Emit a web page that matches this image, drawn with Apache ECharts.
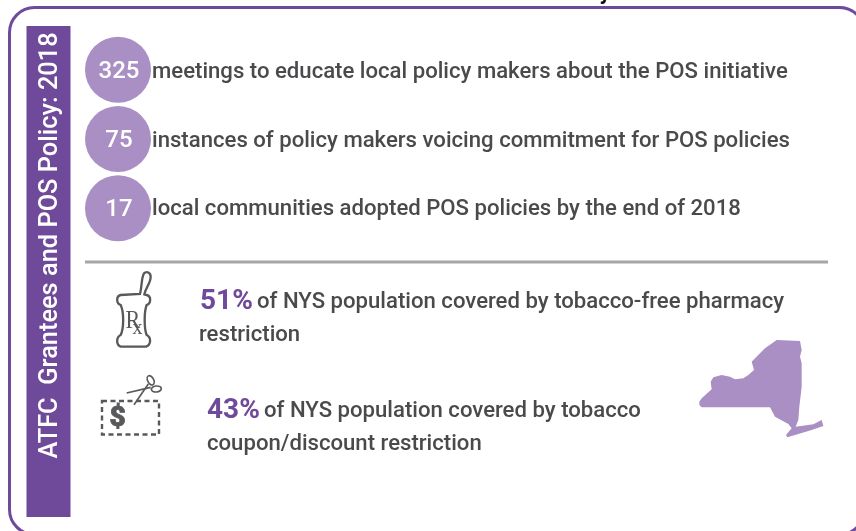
<!DOCTYPE html>
<html><head><meta charset="utf-8">
<style>html,body{margin:0;padding:0;background:#fff}#c{width:856px;height:531px}</style>
<script src="https://cdn.jsdelivr.net/npm/echarts@6/dist/echarts.min.js"></script>
</head><body><div id="c"></div>
<script>
const sideTitle = 'ATFC  Grantees and POS Policy: 2018';
const counts = [325, 75, 17];
const countLabels = [
  'meetings to educate local policy makers about the POS initiative',
  'instances of policy makers voicing commitment for POS policies',
  'local communities adopted POS policies by the end of 2018'
];
const shares = ['51%', '43%'];
const shareLines = [
  ['of NYS population covered by tobacco-free pharmacy', 'restriction'],
  ['of NYS population covered by tobacco', 'coupon/discount restriction']
];
const FONT = 'Roboto, sans-serif';
const PURPLE = '#6f4a9a', LILAC = '#a98fc4', INK = '#4a4a4c', ICON = '#58595b';
const BODY = 22.15;

const nyOutline = [[58,245],[65,235],[95,208],[92,185],[100,172],[125,165],[150,170],[165,178],[190,175],[205,165],[222,150],[215,125],[240,100],[255,85],[290,60],[360,63],[365,90],[360,110],[365,130],[365,200],[358,260],[355,300],[347,320],[400,313],[425,300],[430,318],[395,330],[345,345],[322,352],[318,345],[335,325],[325,312],[285,290],[270,262],[65,262],[58,255]];

echarts.graphic.registerShape('mortarIcon', echarts.graphic.extendPath('M180,132 C186,110 184,82 192,70 C200,62 212,68 212,80 C212,100 196,115 193,133 L200,135 C214,138 214,160 200,165 C192,185 192,235 200,255 C214,262 214,285 198,290 L122,290 C108,285 108,262 122,255 C132,235 132,185 122,165 C108,160 108,138 122,135 Z', {}));

function txt(x, y, text, size) {
  return {type:'text', x, y, silent:true, style:{text, fontFamily:FONT, fontSize:size, fontWeight:500, fill:INK, verticalAlign:'middle'}};
}
function shareText(x, y, i) {
  return {type:'text', x, y, silent:true, style:{text:'{a|'+shares[i]+'} {s| }{b|'+shareLines[i][0]+'}', fontFamily:FONT, verticalAlign:'middle', rich:{a:{fontFamily:FONT,fontSize:28,fontWeight:700,fill:PURPLE},s:{fontFamily:FONT,fontSize:5},b:{fontFamily:FONT,fontSize:BODY,fontWeight:500,fill:INK}}}};
}
const rowY = [72, 141.5, 209.5];
const graphics = [
  {type:'rect', shape:{x:9.5,y:7.5,width:855,height:527,r:25}, style:{fill:'#fff',stroke:PURPLE,lineWidth:3}, z:-10},
  {type:'rect', shape:{x:26.5,y:26,width:44,height:491}, style:{fill:PURPLE}, z:-5},
  {type:'text', x:605, y:4, silent:true, style:{text:'y', fontFamily:FONT, fontSize:22, fontWeight:700, fill:'#111', align:'center', verticalAlign:'bottom'}},
  {type:'text', x:50.5, y:245.5, rotation:Math.PI/2, silent:true, style:{text:sideTitle,fontFamily:FONT,fontSize:25.4,fontWeight:500,fill:'#fff',align:'center',verticalAlign:'middle'}},
  {type:'line', shape:{x1:85,y1:262,x2:828,y2:262}, style:{stroke:'#a6a6a6',lineWidth:3}},
  shareText(200, 302, 0),
  txt(199, 335.5, shareLines[0][1], BODY),
  shareText(207, 411, 1),
  txt(207, 444.5, shareLines[1][1], BODY),
  {type:'group', x:680, y:320, scaleX:1/3, scaleY:1/3, children:[
    {type:'polygon', shape:{points:nyOutline}, style:{fill:LILAC}}
  ]},
  {type:'group', x:80, y:250, scaleX:1/3, scaleY:1/3, children:[
    {type:'mortarIcon', style:{fill:'none',stroke:ICON,lineWidth:7}}
  ]},
  {type:'text', x:125.5, y:321, scaleX:0.85, silent:true, style:{text:'R', fontFamily:'"Liberation Serif", serif', fontSize:26, fill:ICON, verticalAlign:'middle'}},
  {type:'text', x:132.5, y:328.5, scaleX:0.95, silent:true, style:{text:'x', fontFamily:'"Liberation Serif", serif', fontSize:21, fill:ICON, verticalAlign:'middle'}},
  {type:'rect', shape:{x:102,y:401,width:57,height:33.5}, style:{fill:'none',stroke:ICON,lineWidth:2.4,lineDash:[5,3.5]}},
  {type:'text', x:117.5, y:419, silent:true, style:{text:'$', fontFamily:FONT, fontWeight:900, fontSize:28, fill:ICON, stroke:ICON, lineWidth:0.8, align:'center', verticalAlign:'middle'}},
  {type:'group', x:80, y:250, scaleX:1/3, scaleY:1/3, children:[
    {type:'line', shape:{x1:140,y1:429,x2:212,y2:412}, style:{stroke:ICON,lineWidth:5}},
    {type:'line', shape:{x1:162,y1:464,x2:205,y2:402}, style:{stroke:ICON,lineWidth:5}},
    {type:'ellipse', x:212, y:391, rotation:-1.1, shape:{cx:0,cy:0,rx:15,ry:9}, style:{fill:'none',stroke:ICON,lineWidth:5}},
    {type:'ellipse', x:229, y:417, rotation:0.1, shape:{cx:0,cy:0,rx:15,ry:9}, style:{fill:'none',stroke:ICON,lineWidth:5}}
  ]}
];
countLabels.forEach((t,i)=>{ graphics.push(txt(152, rowY[i], t, BODY)); });

const chart = echarts.init(document.getElementById('c'), null, {renderer:'canvas'});
chart.setOption({
  animation:false,
  backgroundColor:'#fff',
  tooltip:{show:false},
  legend:{show:false},
  grid:{left:85, top:35, width:66, height:208},
  xAxis:{type:'value', min:0, max:2, show:false},
  yAxis:{type:'category', inverse:true, show:false, data:countLabels},
  graphic:{elements:graphics},
  series:[{
    type:'scatter', symbol:'circle', symbolSize:66, silent:true, z:5,
    itemStyle:{color:LILAC, opacity:1},
    label:{show:true, position:'inside', offset:[1,2], color:'#fff', fontFamily:FONT, fontSize:24, fontWeight:500,
      formatter:p=>String(p.value[2])},
    data:counts.map((v,i)=>[1,i,v])
  }]
});
</script></body></html>
